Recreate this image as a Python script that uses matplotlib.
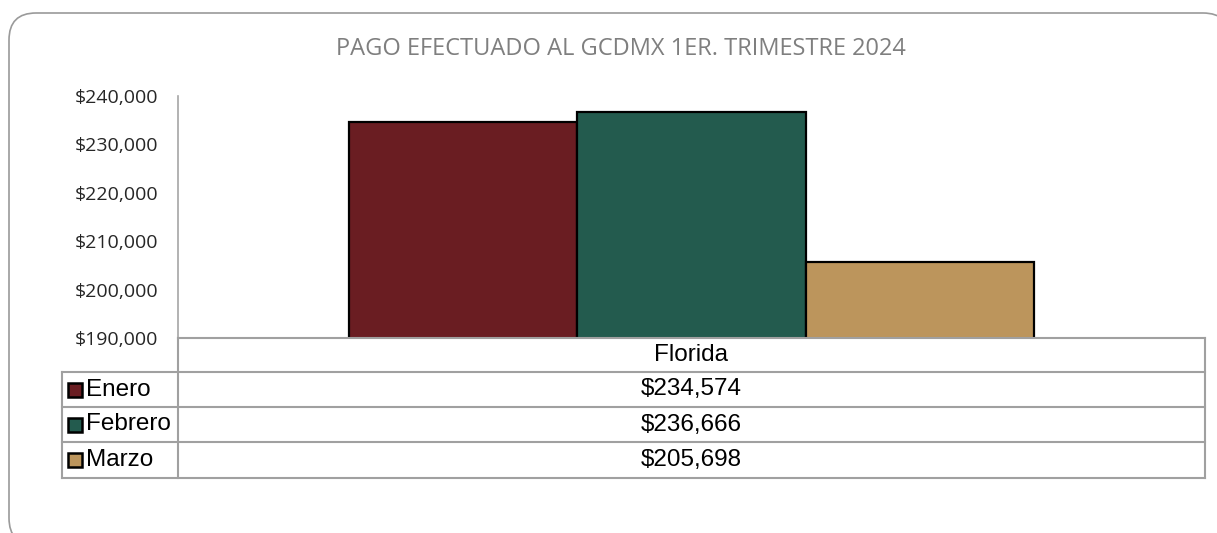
import matplotlib.pyplot as plt
from matplotlib.patches import FancyBboxPatch, Rectangle
from matplotlib.lines import Line2D

W, H = 1217, 533

title = "PAGO EFECTUADO AL GCDMX 1ER. TRIMESTRE 2024"
category = "Florida"
months = ["Enero", "Febrero", "Marzo"]
values = [234574, 236666, 205698]
colors = ["#6a1d22", "#235b4e", "#bc955c"]
yticks = [190000, 200000, 210000, 220000, 230000, 240000]


def fx(x):
    return x / W


def fy(y):
    return 1 - y / H


fig = plt.figure(figsize=(W / 100, H / 100), dpi=100)

# background axes in pixel coords, for the rounded chart border
bg = fig.add_axes([0, 0, 1, 1], zorder=-1)
bg.set_xlim(0, W)
bg.set_ylim(H, 0)
bg.axis("off")
bg.add_patch(FancyBboxPatch((9, 13), 1230 - 9, 545 - 13,
                            boxstyle="round,pad=0,rounding_size=27",
                            facecolor="white", edgecolor="#9a9a9a", linewidth=1.2))

fig.text(fx(621), fy(49), title, ha="center", va="center", fontsize=17,
         color="#7f7f7f", family="Open Sans")

# main axes
left, right, top, bottom = 178, 1205, 96, 338
ax = fig.add_axes([fx(left), fy(bottom), fx(right) - fx(left), fy(top) - fy(bottom)])
ax.set_facecolor("none")
bw = 0.2225
for i, (m, v, c) in enumerate(zip(months, values, colors)):
    ax.bar((i - 1) * bw, v, width=bw, color=c, edgecolor="black", linewidth=1.6,
           zorder=3)
ax.set_xlim(-0.5, 0.5)
ax.set_ylim(yticks[0], yticks[-1])
ax.set_yticks(yticks)
ax.set_yticklabels(["${:,}".format(t) for t in yticks], family="Open Sans",
                   fontsize=14, color="#262626")
ax.tick_params(axis="y", length=0, pad=14)
ax.set_xticks([])
for s in ["top", "right", "bottom"]:
    ax.spines[s].set_visible(False)
ax.spines["left"].set_color("#a6a6a6")
ax.spines["left"].set_linewidth(1.2)

# data table below
gc = "#a0a0a0"
lw = 1.5
rows = [338, 372, 407, 442, 478]


def hline(y, x0, x1):
    fig.add_artist(Line2D([fx(x0), fx(x1)], [fy(y), fy(y)], color=gc, lw=lw,
                          transform=fig.transFigure))


def vline(x, y0, y1):
    fig.add_artist(Line2D([fx(x), fx(x)], [fy(y0), fy(y1)], color=gc, lw=lw,
                          transform=fig.transFigure))


hline(rows[0], left, right)
for y in rows[1:]:
    hline(y, 62, right)
vline(left, rows[0], rows[-1])
vline(right, rows[0], rows[-1])
vline(62, rows[1], rows[-1])

fs = 17.5
fig.text(fx((left + right) / 2), fy((rows[0] + rows[1]) / 2), category,
         ha="center", va="center", fontsize=fs, family="Liberation Sans")
for i, (m, v, c) in enumerate(zip(months, values, colors)):
    yc = (rows[i + 1] + rows[i + 2]) / 2
    fig.add_artist(Rectangle((fx(68), fy(yc + 7)), fx(14), 14 / H,
                             transform=fig.transFigure, facecolor=c,
                             edgecolor="black", linewidth=1.8))
    fig.text(fx(86), fy(yc), m, ha="left", va="center", fontsize=fs,
             family="Liberation Sans")
    fig.text(fx((left + right) / 2), fy(yc), "${:,}".format(v), ha="center",
             va="center", fontsize=fs, family="Liberation Sans")

fig.savefig("out.png", dpi=100)
